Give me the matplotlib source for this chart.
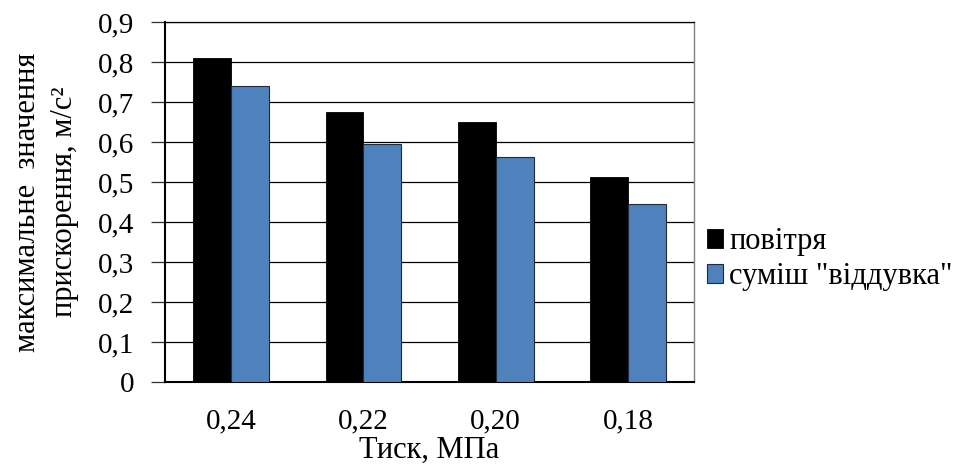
import matplotlib

matplotlib.use("Agg")
import matplotlib.pyplot as plt
from matplotlib.font_manager import FontProperties
import numpy as np

# pressure levels and peak acceleration per working medium
pressures = ["0,24", "0,22", "0,20", "0,18"]
air = [0.81, 0.674, 0.651, 0.512]
blowdown_mix = [0.74, 0.596, 0.562, 0.445]
series_labels = ["повітря", "суміш \"віддувка\""]
y_ticks = [0, 0.1, 0.2, 0.3, 0.4, 0.5, 0.6, 0.7, 0.8, 0.9]

serif = ["Liberation Serif", "DejaVu Serif"]
plt.rcParams["font.family"] = serif

fig = plt.figure(figsize=(9.6, 4.68), dpi=100)
ax = fig.add_axes([0.172, 0.184, 0.551, 0.769])

x = np.arange(len(pressures))
width = 0.287
ax.bar(x - width / 2, air, width, color="black", edgecolor="black",
       linewidth=0.6, label=series_labels[0], zorder=3)
ax.bar(x + width / 2, blowdown_mix, width, color="#4F81BD", edgecolor="#1F2A3A",
       linewidth=0.8, label=series_labels[1], zorder=3)

ax.set_xlim(-0.5, len(pressures) - 0.5)
ax.set_ylim(0, 0.9)
ax.set_yticks(y_ticks)
ax.set_yticklabels(["0" if v == 0 else f"{v:.1f}".replace(".", ",") for v in y_ticks])
ax.set_xticks(x)
ax.set_xticklabels(pressures)
ax.yaxis.grid(True, color="black", linewidth=0.9, zorder=0)
ax.set_axisbelow(True)

ax.tick_params(axis="y", direction="out", length=10, width=0.9, color="#333333",
               labelsize=21, pad=12)
ax.tick_params(axis="x", length=0, labelsize=21, pad=19)

for side in ("left", "bottom"):
    ax.spines[side].set_color("black")
    ax.spines[side].set_linewidth(1.5)
ax.spines["top"].set_color("black")
ax.spines["top"].set_linewidth(0.9)
ax.spines["right"].set_color("#808080")
ax.spines["right"].set_linewidth(1.0)

ax.set_xlabel("Тиск, МПа", fontsize=22, labelpad=1)
ax.set_ylabel("максимальне  значення\nприскорення, м/с²", fontsize=22,
              labelpad=14, linespacing=1.35)

legend_font = FontProperties(family="Liberation Serif", size=22)
ax.legend(loc="center left", bbox_to_anchor=(0.736, 0.446),
          bbox_transform=fig.transFigure, frameon=False,
          prop=legend_font, handlelength=0.55, handleheight=0.55,
          handletextpad=0.2, labelspacing=0.2, borderpad=0, borderaxespad=0)

fig.savefig("out.png", dpi=100)
